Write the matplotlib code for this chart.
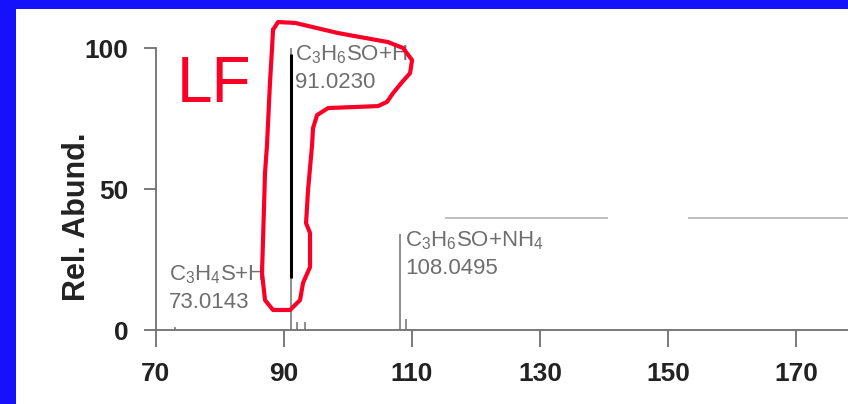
import matplotlib
matplotlib.use("Agg")
import matplotlib.pyplot as plt
from matplotlib.patches import Rectangle

# peak list (m/z, relative abundance %)
mz = [73.0143, 91.0230, 92.03, 93.2, 108.0495, 109.06]
abund = [1.2, 100.0, 2.8, 3.0, 34.0, 4.0]

# labelled peaks
lab_text = [r'C$\mathregular{_3}$H$\mathregular{_4}$S+H' + '\n73.0143',
            r'C$\mathregular{_3}$H$\mathregular{_6}$SO+H' + '\n91.0230',
            r'C$\mathregular{_3}$H$\mathregular{_6}$SO+NH$\mathregular{_4}$' + '\n108.0495']
lab_x = [72.03, 91.72, 108.9]
lab_y = [23.6, 101.6, 35.7]

# black overlay on the base peak
hl_mz = 91.0230
hl_lo, hl_hi = 18.4, 98.0

# stray gray rules at ~40 %
rule_y = 39.7
rule_x0 = [115.2, 153.1]
rule_x1 = [140.6, 178.1]

# hand drawn red outline (m/z, %)
loop_x = [88.28, 89.06, 91.72, 98.44, 106.25, 108.59, 110.0, 109.69, 108.44, 107.03,
          106.09, 104.69, 96.88, 95.16, 94.53, 94.38, 93.75, 93.44, 94.06, 94.06,
          92.97, 92.5, 90.94, 88.28, 87.03, 86.56, 86.72, 87.03, 87.34, 87.81,
          88.13, 88.28]
loop_y = [106.4, 109.2, 108.9, 105.3, 102.1, 100.0, 95.7, 91.1, 87.9, 84.0,
          80.9, 79.4, 78.7, 76.2, 71.6, 65.6, 49.6, 37.9, 34.4, 22.3,
          16.7, 10.6, 7.1, 7.1, 10.6, 20.2, 31.9, 55.7, 65.6, 87.9,
          100.0, 106.4]

xticks = [70, 90, 110, 130, 150, 170]
yticks = [0, 50, 100]

plt.rcParams['font.family'] = ['Liberation Sans', 'DejaVu Sans']
plt.rcParams['mathtext.default'] = 'regular'

W, H = 848, 404
fig = plt.figure(figsize=(W / 100, H / 100), dpi=100)
fig.patch.set_facecolor('#1512fb')
fig.add_artist(Rectangle((16 / W, 0), 1 - 16 / W, (H - 9) / H,
                         transform=fig.transFigure, facecolor='white',
                         edgecolor='none', zorder=0))

ax = fig.add_axes([156 / W, 74 / H, 1 - 156 / W, 282 / H])
ax.patch.set_alpha(0)
ax.set_xlim(70, 178.1)
ax.set_ylim(0, 100)

axcol = '#707070'
for s in ['top', 'right']:
    ax.spines[s].set_visible(False)
for s in ['left', 'bottom']:
    ax.spines[s].set_color(axcol)
    ax.spines[s].set_linewidth(1.3)

ax.set_xticks(xticks)
ax.set_yticks(yticks)
ax.tick_params(axis='x', length=12, width=1.3, color=axcol, pad=11,
               labelsize=19, labelcolor='#222222')
ax.tick_params(axis='y', length=9, width=1.3, color=axcol, pad=11,
               labelsize=19, labelcolor='#222222')
for t in ax.get_xticklabels() + ax.get_yticklabels():
    t.set_fontweight('bold')

ax.set_ylabel('Rel. Abund.', fontsize=22, fontweight='bold', color='#222222')
ax.yaxis.set_label_coords(-0.093, 0.40)

# stick spectrum
ax.vlines(mz, 0, abund, color='#7a7a7a', lw=1.2, zorder=2)
ax.vlines([hl_mz], hl_lo, hl_hi, color='black', lw=2.2, zorder=3)
ax.hlines([rule_y] * len(rule_x0), rule_x0, rule_x1, color='#b4b4b4', lw=1.2,
          clip_on=False)

for t, x, y in zip(lab_text, lab_x, lab_y):
    ax.text(x, y, t, fontsize=16, color='#6e6e6e', ha='left', va='top',
            linespacing=1.4, clip_on=False)

ax.plot(loop_x, loop_y, color='#fb0027', lw=3, solid_joinstyle='round',
        solid_capstyle='round', clip_on=False, zorder=5)
fig.text(177 / W, (H - 102) / H, 'LF', color='#fb0027', fontsize=46,
         va='baseline', ha='left')

fig.savefig('out.png', dpi=100, facecolor=fig.get_facecolor())
